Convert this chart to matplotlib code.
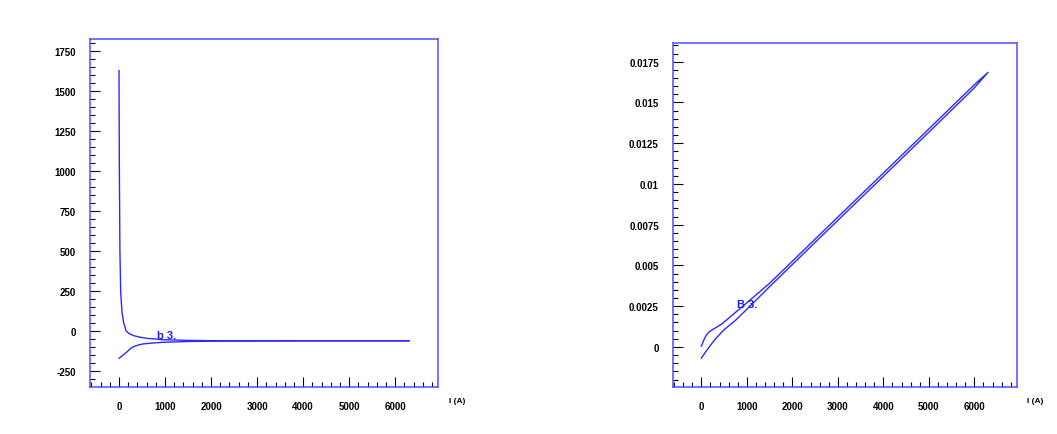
import matplotlib
matplotlib.use("Agg")
import matplotlib.pyplot as plt
from matplotlib.ticker import MultipleLocator, FuncFormatter

plt.rcParams['font.family'] = ['Liberation Sans', 'DejaVu Sans']

# Left panel: b vs I (two branches)
b_up_I = [0, 8, 20, 37, 65, 100, 152, 220, 311, 450, 602, 800, 963, 1500, 2000, 3000, 4000, 5000, 6000, 6300]
b_up_v = [1625, 1000, 500, 243, 118, 55, 3, -15, -27, -37, -44, -49, -53, -57, -59, -60, -60, -60, -60, -60]
b_lo_I = [0, 80, 167, 240, 311, 420, 528, 750, 963, 1500, 2000, 3000, 4000, 5000, 6000, 6300]
b_lo_v = [-169, -151, -130, -111, -97, -86, -79, -73, -69, -64, -62, -61, -60, -60, -60, -60]

# Right panel: B vs I (hysteresis loop)
B_lo_I = [0, 100, 200, 300, 500, 750, 1000, 1500, 2000, 3000, 4000, 5000, 6000, 6300]
B_lo_v = [-0.00068, -0.00028, 0.0001, 0.00046, 0.00106, 0.00163, 0.00231, 0.0037, 0.00506,
          0.00777, 0.01047, 0.01318, 0.0159, 0.01685]
B_up_I = [6300, 6000, 5000, 4000, 3000, 2000, 1500, 1000, 750, 450, 250, 160, 100, 50, 0]
B_up_v = [0.01685, 0.01609, 0.01338, 0.01067, 0.00797, 0.00526, 0.00391, 0.00271, 0.00212,
          0.00141, 0.00107, 0.0009, 0.00068, 0.0004, 0.00005]

x_label = "I (A)"
left_note = "b 3."
right_note = "B 3."

line_blue = '#2a2aff'
frame_blue = '#5050ff'
W, H = 1057, 435
fig = plt.figure(figsize=(W / 100, H / 100), dpi=100)

axL = fig.add_axes([90 / W, 47.3 / H, 348 / W, 347.7 / H])
axR = fig.add_axes([672.7 / W, 47.3 / H, 344 / W, 343.7 / H])


def style(ax, ymaj, ymin, fmt):
    for s in ['top', 'right', 'left', 'bottom']:
        ax.spines[s].set_color(frame_blue)
        ax.spines[s].set_linewidth(1.1)
    ax.xaxis.set_major_locator(MultipleLocator(1000))
    ax.xaxis.set_minor_locator(MultipleLocator(200))
    ax.yaxis.set_major_locator(MultipleLocator(ymaj))
    ax.yaxis.set_minor_locator(MultipleLocator(ymin))
    ax.yaxis.set_major_formatter(FuncFormatter(fmt))
    ax.xaxis.set_major_formatter(FuncFormatter(lambda v, p: f"{int(round(v))}"))
    ax.tick_params(which='both', direction='in', colors='black', width=0.8,
                   top=False, right=False, labelsize=7)
    ax.tick_params(which='major', length=7.2, pad=10)
    ax.tick_params(which='minor', length=3.6)
    ax.set_xlim(-630, 6930)
    ax.text(1.055, -0.04, x_label, transform=ax.transAxes, fontsize=6,
            fontweight='bold', ha='center', va='center')


axL.plot(b_up_I, b_up_v, color=line_blue, lw=1.0)
axL.plot(b_lo_I, b_lo_v, color=line_blue, lw=1.0)
axL.set_ylim(-346, 1823)
style(axL, 250, 50, lambda v, p: f"{int(round(v))}")
axL.text(833, -23, left_note, color='#1a1aff', fontsize=8, fontweight='bold',
         ha='left', va='center')

axR.plot(B_lo_I + B_up_I, B_lo_v + B_up_v, color=line_blue, lw=1.0)
axR.set_ylim(-0.00244, 0.01865)
style(axR, 0.0025, 0.0005, lambda v, p: f"{round(v, 6):g}")
axR.text(785, 0.00262, right_note, color='#1a1aff', fontsize=8, fontweight='bold',
         ha='left', va='center')

for ax in (axL, axR):
    for lab in ax.get_xticklabels() + ax.get_yticklabels():
        lab.set_fontweight('bold')

fig.savefig("out.png", dpi=100)
